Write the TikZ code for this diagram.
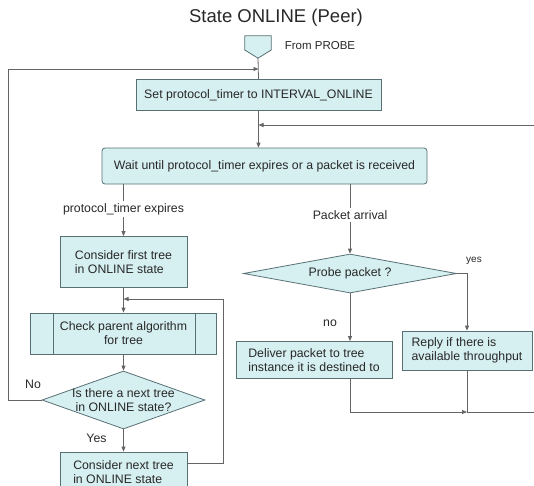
\documentclass[tikz,border=0pt]{standalone}
\usepackage{fontspec}
\setmainfont{Liberation Sans}
\usetikzlibrary{arrows.meta,shapes.geometric,calc}
\definecolor{boxfill}{RGB}{214,239,241}
\definecolor{boxline}{RGB}{88,112,116}
\definecolor{wire}{RGB}{100,100,100}
\definecolor{ink}{RGB}{40,40,40}
% zero-width line so that a diamond keeps its given size
\newcommand\flatline[1]{\makebox[0pt]{#1}}

\begin{document}
\begin{tikzpicture}[x=1pt,y=-1pt,
  font=\fontsize{12.3}{14}\selectfont, text=ink,
  procbox/.style={draw=boxline, fill=boxfill, line width=0.8pt, inner sep=0pt, align=center},
  roundbox/.style={procbox, rounded corners=3pt},
  decision/.style={diamond, aspect=1, draw=boxline, fill=boxfill, line width=0.8pt, inner sep=0pt, align=center},
  wire/.style={draw=wire, line width=0.8pt},
  arr/.style={-{Triangle[length=5pt,width=4pt]}},
  lbl/.style={inner sep=2pt}
]
\useasboundingbox (0,0) rectangle (534,485);
\clip (0,0) rectangle (534,485);

% title and entry connector
\node (title) at (276,18) {\fontsize{18.5}{20}\selectfont State ONLINE (Peer)};
\node (from) at (258,47) [minimum width=26pt, minimum height=22pt, inner sep=0pt] {};
\draw[draw=boxline, fill=boxfill, line width=0.8pt]
  (from.north west) -- (from.north east) -- ($(from.east)+(0,3)$) -- (from.south)
  -- ($(from.west)+(0,3)$) -- cycle;
\node (fromlbl) at (320,46) {\fontsize{11.5}{13}\selectfont From PROBE};

% main boxes
\node[procbox, minimum width=245pt, minimum height=31pt] (set) at (258.5,95)
  {Set protocol\_timer to INTERVAL\_ONLINE};
\node[roundbox, minimum width=325pt, minimum height=36pt] (wait) at (264.5,166)
  {Wait until protocol\_timer expires or a packet is received};

% left column: timer branch
\node[lbl] (tlab) at (123.5,209) {protocol\_timer expires};
\node[procbox, align=left, minimum width=127pt, minimum height=51pt] (first) at (123.5,262)
  {Consider first tree\\in ONLINE state};
\node[procbox, minimum width=186pt, minimum height=41pt] (check) at (123.5,333.5)
  {Check parent algorithm\\for tree};
\draw[draw=boxline, line width=0.8pt]
  ($(check.north west)+(23,0)$) -- ($(check.south west)+(23,0)$)
  ($(check.north east)+(-22,0)$) -- ($(check.south east)+(-22,0)$);
\node[decision, minimum width=163pt, minimum height=58pt] (isnext) at (123.5,400)
  {\flatline{Is there a next tree}\\\flatline{in ONLINE state?}};
\node[procbox, align=left, minimum width=127pt, minimum height=40pt] (next) at (123.5,472)
  {Consider next tree\\in ONLINE state};

% right column: packet branch
\node[lbl] (plab) at (350,215) {Packet arrival};
\node[decision, minimum width=213pt, minimum height=39pt] (probe) at (350,273.5)
  {\flatline{Probe packet ?}};
\node[procbox, align=left, minimum width=156pt, minimum height=37pt] (deliver) at (314,360)
  {Deliver packet to tree\\instance it is destined to};
\node[procbox, align=left, minimum width=130pt, minimum height=39pt] (reply) at (467,350.5)
  {Reply if there is\\available throughput};

% branch labels
\node[lbl] (nolbl) at (33,384) {No};
\node[lbl] (yeslbl) at (96.5,438) {Yes};
\node[lbl] (nolow) at (330,323) {no};
\node[lbl] (yeslow) at (474,261) {\fontsize{10}{12}\selectfont yes};

% connector end points
\coordinate (noL) at (8,400);
\coordinate (topL) at (8,69);
\coordinate (rin) at (534,125);
\coordinate (back) at (223,299);
\coordinate (nextout) at ($(next.north east)+(0,12)$);
\coordinate (join) at (467,412);
\coordinate (rout) at (534,412);

% connectors
\draw[wire] (from.south) -- (set.north);
\draw[wire, arr] (isnext.west) -- (noL) -- (topL) -- (topL -| set.north);
\draw[wire, arr] (set.south) -- (set.south |- wait.north);
\draw[wire, arr] (rin) -- (rin -| set.south);

\draw[wire] (first.north |- wait.south) -- (tlab);
\draw[wire, arr] (tlab) -- (first.north);
\draw[wire, arr] (first.south) -- (check.north);
\draw[wire, arr] (check.south) -- (isnext.north);
\draw[wire, arr] (isnext.south) -- (next.north);
\draw[wire, arr] (nextout) -- (nextout -| back) -- (back) -- (back -| first.south);

\draw[wire] (probe.north |- wait.south) -- (plab);
\draw[wire, arr] (plab) -- (probe.north);
\draw[wire, arr] (probe.east) -- (probe.east -| reply.north) -- (reply.north);
\draw[wire, arr] (probe.south) -- (probe.south |- deliver.north);
\draw[wire, arr] (probe.south |- deliver.south) -- (probe.south |- join) -- (join);
\draw[wire] (reply.south) -- (join) -- (rout);
\end{tikzpicture}
\end{document}
